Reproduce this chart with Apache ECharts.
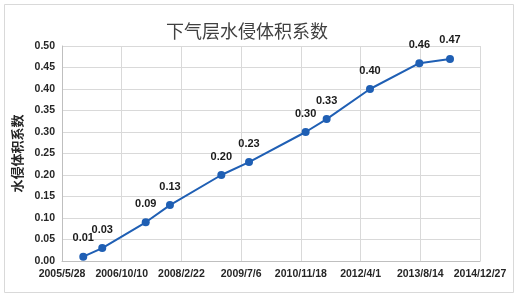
<!DOCTYPE html>
<html>
<head>
<meta charset="utf-8">
<script src="https://cdn.jsdelivr.net/npm/echarts@6/dist/echarts.min.js"></script>
<style>
html,body{margin:0;padding:0;background:#fff;}
#c{width:519px;height:298px;}
</style>
</head>
<body>
<div id="c"></div>
<script>
const title = '下气层水侵体积系数';
const yName = '水侵体积系数';
const startDate = [2005, 5, 28];
const tickStepDays = 500;
const dates = ['2005/11/22','2006/4/30','2007/4/29','2007/11/18','2009/1/21','2009/9/10','2010/12/28','2011/6/22','2012/6/19','2013/8/6','2014/4/20'];
const values = [0.01, 0.03, 0.09, 0.13, 0.20, 0.23, 0.30, 0.33, 0.40, 0.46, 0.47];

const DAY = 86400000;
const t0 = Date.UTC(startDate[0], startDate[1]-1, startDate[2]);
function toOffset(s){ const p = s.split('/').map(Number); return (Date.UTC(p[0], p[1]-1, p[2]) - t0)/DAY; }
function fmt(off){ const d = new Date(t0 + off*DAY); return d.getUTCFullYear()+'/'+(d.getUTCMonth()+1)+'/'+d.getUTCDate(); }
const data = dates.map((d,i)=>[toOffset(d), values[i]]);

const chart = echarts.init(document.getElementById('c'), null, {renderer:'canvas'});
const lblFont = {fontFamily:'Liberation Sans, Arial, sans-serif', fontWeight:'bold', color:'#262626'};
chart.setOption({
  animation:false,
  title:{text:title, left:242, top:17, textAlign:'center',
    textStyle:{fontFamily:'Noto Sans CJK SC', fontSize:18, fontWeight:'normal', color:'#404040'}},
  graphic:[{type:'rect', shape:{x:4.5,y:4.5,width:509,height:288}, style:{fill:'none', stroke:'#d9d9d9', lineWidth:1}}],
  grid:{left:62, right:39, top:46, bottom:37},
  xAxis:{type:'value', min:0, max:tickStepDays*7, interval:tickStepDays,
    axisLine:{lineStyle:{color:'#bfbfbf'}}, axisTick:{show:false},
    splitLine:{show:true, lineStyle:{color:'#d9d9d9'}},
    axisLabel:{formatter:fmt, fontSize:10.5, margin:8, ...lblFont, showMinLabel:true, showMaxLabel:true}},
  yAxis:{type:'value', min:0, max:0.5, interval:0.05,
    name:yName, nameLocation:'middle', nameGap:32,
    nameTextStyle:{fontFamily:'Noto Sans CJK SC', fontSize:13, fontWeight:'bold', color:'#262626'},
    axisLine:{show:true, lineStyle:{color:'#bfbfbf'}}, axisTick:{show:false},
    splitLine:{lineStyle:{color:'#d9d9d9'}},
    axisLabel:{formatter:v=>v.toFixed(2), fontSize:10.5, margin:7, ...lblFont}},
  series:[{type:'line', data:data, symbol:'circle', symbolSize:8,
    lineStyle:{color:'#1f5fb4', width:2}, itemStyle:{color:'#1f5fb4'},
    label:{show:true, position:'top', distance:9, formatter:p=>p.value[1].toFixed(2), fontSize:11, ...lblFont, color:'#1a1a1a'}}]
});
</script>
</body>
</html>
